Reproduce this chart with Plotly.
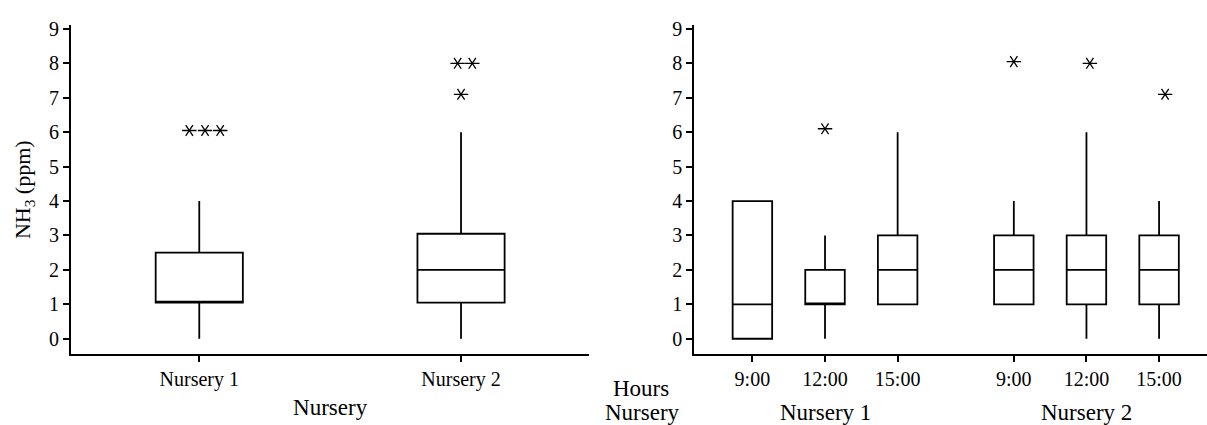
import plotly.graph_objects as go

# ---------------- data ----------------
# Left panel: NH3 by nursery
nurseries = ["Nursery 1", "Nursery 2"]
left_q1 = [1.05, 1.05]
left_median = [1.05, 2.0]
left_q3 = [2.5, 3.05]
left_lower = [0.0, 0.0]
left_upper = [4.0, 6.0]
# outliers (nursery index, value) and small horizontal jitter
left_out_idx = [0, 0, 0, 1, 1, 1]
left_out_val = [6.05, 6.05, 6.05, 7.1, 8.0, 8.0]
left_out_jit = [-0.038, 0.022, 0.08, 0.0, -0.013, 0.043]

# Right panel: NH3 by hour within nursery
hours = ["9:00", "12:00", "15:00"]
right_group = [0, 0, 0, 1, 1, 1]
right_hour = [0, 1, 2, 0, 1, 2]
right_q1 = [0, 1, 1, 1, 1, 1]
right_median = [1, 1, 2, 2, 2, 2]
right_q3 = [4, 2, 3, 3, 3, 3]
right_lower = [0, 0, 1, 1, 0, 0]
right_upper = [4, 3, 6, 4, 6, 4]
right_out_box = [1, 3, 4, 5]
right_out_val = [6.1, 8.05, 8.0, 7.1]
right_out_jit = [0.0, 0.0, 0.047, 0.083]

# ---------------- layout helpers ----------------
FONT = "Liberation Serif"
GROUP_GAP = 0.6
W, H = 1207, 425

right_x = [g * (len(hours) + GROUP_GAP) + h for g, h in zip(right_group, right_hour)]
left_x = list(range(len(nurseries)))

box_style = dict(
    fillcolor="white",
    line=dict(color="black", width=1.8),
    whiskerwidth=0,
    boxpoints=False,
    showlegend=False,
    hoverinfo="skip",
)

fig = go.Figure()

fig.add_trace(go.Box(
    x=left_x, q1=left_q1, median=left_median, q3=left_q3,
    lowerfence=left_lower, upperfence=left_upper,
    width=0.333, xaxis="x", yaxis="y", **box_style))

fig.add_trace(go.Box(
    x=right_x, q1=right_q1, median=right_median, q3=right_q3,
    lowerfence=right_lower, upperfence=right_upper,
    width=0.544, xaxis="x2", yaxis="y2", **box_style))

lx = [left_x[i] + j for i, j in zip(left_out_idx, left_out_jit)]
rx = [right_x[i] + j for i, j in zip(right_out_box, right_out_jit)]
for sym in ["y-left-open", "y-right-open"]:
    mk = dict(symbol=sym, size=9, color="black", line=dict(color="black", width=1.3))
    fig.add_trace(go.Scatter(x=lx, y=left_out_val, mode="markers", xaxis="x", yaxis="y",
                             marker=mk, showlegend=False, hoverinfo="skip"))
    fig.add_trace(go.Scatter(x=rx, y=right_out_val, mode="markers", xaxis="x2", yaxis="y2",
                             marker=mk, showlegend=False, hoverinfo="skip"))

y_dom = [(H - 353.3) / H, (H - 18.3) / H]
yr = [-0.457, 9.114]
tickfont = dict(family=FONT, size=20, color="black")
axis_common = dict(showline=True, linecolor="black", linewidth=2, ticks="outside",
                   ticklen=6, tickwidth=2, tickcolor="black", showgrid=False,
                   zeroline=False, tickfont=tickfont, fixedrange=True)

fig.update_layout(
    width=W, height=H,
    margin=dict(l=0, r=0, t=0, b=0),
    paper_bgcolor="white", plot_bgcolor="white",
    boxmode="overlay",
    font=dict(family=FONT, color="black"),
    xaxis=dict(domain=[71 / W, 589.3 / W], range=[-0.49, 1.49],
               tickvals=left_x, ticktext=nurseries,
               title=dict(text="Nursery", font=dict(family=FONT, size=23), standoff=8),
               anchor="y", **axis_common),
    yaxis=dict(domain=y_dom, range=yr, tickvals=list(range(10)),
               title=dict(text="NH<sub>3</sub> (ppm)", font=dict(family=FONT, size=22), standoff=12),
               anchor="x", **axis_common),
    xaxis2=dict(domain=[694.3 / W, 1.0], range=[-0.8, 6.26],
                tickvals=right_x, ticktext=[hours[h] for h in right_hour],
                anchor="y2", **axis_common),
    yaxis2=dict(domain=y_dom, range=yr, tickvals=list(range(10)),
                anchor="x2", **axis_common),
)

# group labels under right panel
groups = ["Nursery 1", "Nursery 2"]
for g, name in enumerate(groups):
    xs = [x for x, gg in zip(right_x, right_group) if gg == g]
    fig.add_annotation(x=sum(xs) / len(xs), xref="x2", y=(H - 412.5) / H, yref="paper",
                       text=name, showarrow=False, xanchor="center", yanchor="middle",
                       font=dict(family=FONT, size=23, color="black"))

fig.add_annotation(x=641 / W, xref="paper", y=(H - 387.5) / H, yref="paper", text="Hours",
                   showarrow=False, xanchor="center", yanchor="middle",
                   font=dict(family=FONT, size=23, color="black"))
fig.add_annotation(x=642 / W, xref="paper", y=(H - 412.5) / H, yref="paper", text="Nursery",
                   showarrow=False, xanchor="center", yanchor="middle",
                   font=dict(family=FONT, size=23, color="black"))

fig.write_html("out.html")
